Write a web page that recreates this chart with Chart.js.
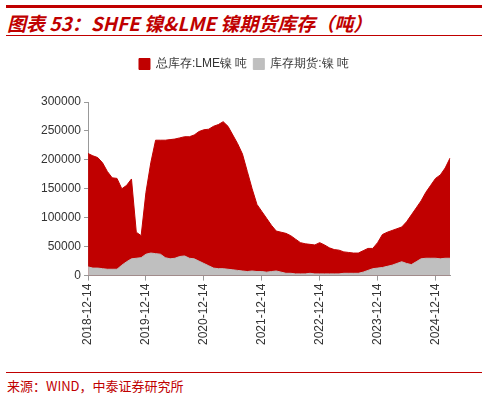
<!DOCTYPE html>
<html><head><meta charset="utf-8">
<script src="https://cdn.jsdelivr.net/npm/chart.js@4"></script>
<style>
body{margin:0;width:488px;height:400px;background:#fff;font-family:"Noto Sans CJK SC","Liberation Sans",sans-serif;position:relative;overflow:hidden}
#top{position:absolute;left:6px;right:6px;top:5px;height:3px;background:#c00000}
#title{position:absolute;left:7px;top:9px;color:#c00000;font-size:19px;font-weight:bold;font-style:italic;white-space:nowrap}
#tline{position:absolute;left:6px;right:6px;top:35px;height:1px;background:#c00000}
#wrap{position:absolute;left:0;top:52px;width:488px;height:296px}
#bline{position:absolute;left:6px;right:6px;top:372px;height:1px;background:#c00000}
#src{position:absolute;left:7px;top:376px;font-size:13px;color:#c00000}
</style></head><body>
<div id="top"></div><div id="title">图表 53：SHFE 镍&amp;LME 镍期货库存（吨）</div><div id="tline"></div>
<div id="wrap"><canvas id="c"></canvas></div>
<div id="bline"></div><div id="src">来源：WIND，中泰证券研究所</div>
<script>
// monthly, 2018-12 .. 2025-03
const startYear = 2018, startMonth = 12;
const totalLME = [211000,
 207000,204000,195000,180000,169000,168000,150000,156000,167000,75000,69000,144000,
 195000,234000,234000,234000,235000,236000,238000,240000,240000,243000,249000,252000,
 253000,258000,261000,266000,258000,243000,228000,210000,180000,150000,123000,111000,
 99000,87000,77000,75000,73000,69000,63000,57000,55000,54000,53000,57000,
 53000,48000,45000,44000,41000,40000,39000,39000,43000,47000,47000,57000,
 71000,75000,78000,81000,84000,93000,105000,117000,129000,144000,156000,168000,
 174000,186000,203000];
const futures = [15000,
 13000,13000,12000,11000,11000,11000,18000,24000,29000,30000,31000,37000,
 39000,38000,37000,31000,29000,30000,33000,34000,30000,29000,25000,21000,
 17000,13000,12000,12000,11000,10000,9000,8000,7000,8000,7000,7000,
 6000,7000,8000,6000,4000,4000,3000,3000,3000,4000,3000,3000,
 3000,3000,3000,3000,4000,4000,4000,4000,6000,9000,12000,13000,
 14000,16000,18000,21000,24000,21000,19000,24000,29000,30000,30000,30000,
 29000,30000,30000];
const labels = totalLME.map((v, i) => {
  const m = (startMonth - 1 + i) % 12 + 1, y = startYear + Math.floor((startMonth - 1 + i) / 12);
  return y + '-' + String(m).padStart(2, '0') + '-14';
});
const yTicks = [0, 50000, 100000, 150000, 200000, 250000, 300000];

const legendGap = {
  id: 'legendGap',
  beforeInit(chart) {
    const fit = chart.legend.fit;
    chart.legend.fit = function () { fit.bind(chart.legend)(); this.height += 22; };
  }
};

new Chart(document.getElementById('c'), {
  type: 'line',
  data: {
    labels: labels,
    datasets: [
      {label: '总库存:LME镍 吨', data: totalLME, backgroundColor: '#c00000', borderColor: '#c00000', borderWidth: 1, fill: 'origin', pointRadius: 0, tension: 0, order: 2},
      {label: '库存期货:镍 吨', data: futures, backgroundColor: '#bfbfbf', borderColor: '#bfbfbf', borderWidth: 1, fill: 'origin', pointRadius: 0, tension: 0, order: 1}
    ]
  },
  plugins: [legendGap],
  options: {
    responsive: true, maintainAspectRatio: false, animation: false,
    layout: {padding: {left: 38, right: 38, top: 0}},
    plugins: {
      legend: {
        labels: {boxWidth: 11, boxHeight: 11, font: {size: 12}, color: '#333', padding: 6,
          sort: (a, b) => a.datasetIndex - b.datasetIndex}
      },
      tooltip: {enabled: false}
    },
    scales: {
      x: {
        offset: false,
        grid: {display: true, drawOnChartArea: false, color: '#999', tickLength: 5},
        border: {color: '#999'},
        ticks: {
          autoSkip: false, minRotation: 90, maxRotation: 90, color: '#333', font: {size: 12},
          callback: (v, i) => labels[i].slice(5, 7) === '12' ? labels[i] : null
        }
      },
      y: {
        min: 0, max: 300000,
        afterBuildTicks: ax => { ax.ticks = yTicks.map(v => ({value: v})); },
        grid: {display: true, drawOnChartArea: false, color: '#999', tickLength: 4},
        border: {color: '#999'},
        ticks: {color: '#333', font: {size: 12}, callback: v => String(v)}
      }
    }
  }
});
</script></body></html>
